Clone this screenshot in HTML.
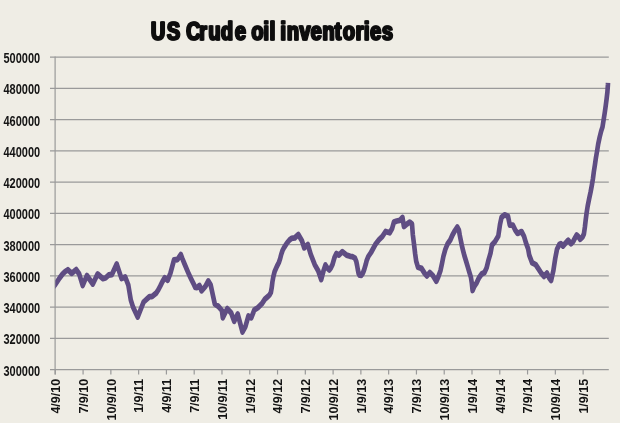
<!DOCTYPE html>
<html><head><meta charset="utf-8"><title>US Crude oil inventories</title>
<style>
html,body{margin:0;padding:0;background:#efede5;}
svg{display:block;will-change:transform;}
.yl{font-family:"Liberation Sans",Arial,sans-serif;font-weight:bold;font-size:14.2px;fill:#141414;}
.xl{font-family:"Liberation Sans",Arial,sans-serif;font-weight:bold;font-size:12.8px;fill:#141414;}
.tt{font-family:"Liberation Sans",Arial,sans-serif;font-weight:bold;font-size:26.5px;fill:#111;stroke:#111;stroke-width:1.6px;stroke-linejoin:round;}
</style></head><body>
<svg width="620" height="423" viewBox="0 0 620 423">
<rect x="0" y="0" width="620" height="423" fill="#efede5"/>
<path d="M50 369.60H608.8 M50 338.36H608.8 M50 307.12H608.8 M50 275.88H608.8 M50 244.64H608.8 M50 213.40H608.8 M50 182.16H608.8 M50 150.92H608.8 M50 119.68H608.8 M50 88.44H608.8 M50 57.20H608.8" stroke="#9a9a9a" stroke-width="1.2" fill="none"/>
<path d="M55.1 56.45V374.6" stroke="#9a9a9a" stroke-width="1.2" fill="none"/>
<path d="M55.30 369.6V374.6 M83.08 369.6V374.6 M110.86 369.6V374.6 M138.64 369.6V374.6 M166.42 369.6V374.6 M194.20 369.6V374.6 M221.98 369.6V374.6 M249.76 369.6V374.6 M277.54 369.6V374.6 M305.32 369.6V374.6 M333.10 369.6V374.6 M360.88 369.6V374.6 M388.66 369.6V374.6 M416.44 369.6V374.6 M444.22 369.6V374.6 M472.00 369.6V374.6 M499.78 369.6V374.6 M527.56 369.6V374.6 M555.34 369.6V374.6 M583.12 369.6V374.6" stroke="#9a9a9a" stroke-width="1.2" fill="none"/>
<text x="40.1" y="375.50" text-anchor="end" class="yl" textLength="36.6" lengthAdjust="spacingAndGlyphs">300000</text>
<text x="40.1" y="344.26" text-anchor="end" class="yl" textLength="36.6" lengthAdjust="spacingAndGlyphs">320000</text>
<text x="40.1" y="313.02" text-anchor="end" class="yl" textLength="36.6" lengthAdjust="spacingAndGlyphs">340000</text>
<text x="40.1" y="281.78" text-anchor="end" class="yl" textLength="36.6" lengthAdjust="spacingAndGlyphs">360000</text>
<text x="40.1" y="250.54" text-anchor="end" class="yl" textLength="36.6" lengthAdjust="spacingAndGlyphs">380000</text>
<text x="40.1" y="219.30" text-anchor="end" class="yl" textLength="36.6" lengthAdjust="spacingAndGlyphs">400000</text>
<text x="40.1" y="188.06" text-anchor="end" class="yl" textLength="36.6" lengthAdjust="spacingAndGlyphs">420000</text>
<text x="40.1" y="156.82" text-anchor="end" class="yl" textLength="36.6" lengthAdjust="spacingAndGlyphs">440000</text>
<text x="40.1" y="125.58" text-anchor="end" class="yl" textLength="36.6" lengthAdjust="spacingAndGlyphs">460000</text>
<text x="40.1" y="94.34" text-anchor="end" class="yl" textLength="36.6" lengthAdjust="spacingAndGlyphs">480000</text>
<text x="40.1" y="63.10" text-anchor="end" class="yl" textLength="36.6" lengthAdjust="spacingAndGlyphs">500000</text>
<text transform="translate(60.10,378.9) rotate(-90) scale(0.975 1)" text-anchor="end" class="xl">4/9/10</text>
<text transform="translate(87.88,378.9) rotate(-90) scale(0.975 1)" text-anchor="end" class="xl">7/9/10</text>
<text transform="translate(115.66,378.9) rotate(-90) scale(0.975 1)" text-anchor="end" class="xl">10/9/10</text>
<text transform="translate(143.44,378.9) rotate(-90) scale(0.975 1)" text-anchor="end" class="xl">1/9/11</text>
<text transform="translate(171.22,378.9) rotate(-90) scale(0.975 1)" text-anchor="end" class="xl">4/9/11</text>
<text transform="translate(199.00,378.9) rotate(-90) scale(0.975 1)" text-anchor="end" class="xl">7/9/11</text>
<text transform="translate(226.78,378.9) rotate(-90) scale(0.975 1)" text-anchor="end" class="xl">10/9/11</text>
<text transform="translate(254.56,378.9) rotate(-90) scale(0.975 1)" text-anchor="end" class="xl">1/9/12</text>
<text transform="translate(282.34,378.9) rotate(-90) scale(0.975 1)" text-anchor="end" class="xl">4/9/12</text>
<text transform="translate(310.12,378.9) rotate(-90) scale(0.975 1)" text-anchor="end" class="xl">7/9/12</text>
<text transform="translate(337.90,378.9) rotate(-90) scale(0.975 1)" text-anchor="end" class="xl">10/9/12</text>
<text transform="translate(365.68,378.9) rotate(-90) scale(0.975 1)" text-anchor="end" class="xl">1/9/13</text>
<text transform="translate(393.46,378.9) rotate(-90) scale(0.975 1)" text-anchor="end" class="xl">4/9/13</text>
<text transform="translate(421.24,378.9) rotate(-90) scale(0.975 1)" text-anchor="end" class="xl">7/9/13</text>
<text transform="translate(449.02,378.9) rotate(-90) scale(0.975 1)" text-anchor="end" class="xl">10/9/13</text>
<text transform="translate(476.80,378.9) rotate(-90) scale(0.975 1)" text-anchor="end" class="xl">1/9/14</text>
<text transform="translate(504.58,378.9) rotate(-90) scale(0.975 1)" text-anchor="end" class="xl">4/9/14</text>
<text transform="translate(532.36,378.9) rotate(-90) scale(0.975 1)" text-anchor="end" class="xl">7/9/14</text>
<text transform="translate(560.14,378.9) rotate(-90) scale(0.975 1)" text-anchor="end" class="xl">10/9/14</text>
<text transform="translate(587.92,378.9) rotate(-90) scale(0.975 1)" text-anchor="end" class="xl">1/9/15</text>
<clipPath id="pa"><rect x="55.3" y="40" width="570" height="340"/></clipPath>
<g clip-path="url(#pa)"><path transform="scale(0.8 1)" d="M65.00 288.5 L69.12 284.5 L74.50 278.0 L78.25 274.0 L81.50 271.5 L84.88 269.8 L89.62 273.4 L95.25 269.6 L99.00 274.0 L103.38 285.5 L108.62 275.5 L116.00 284.0 L122.00 274.0 L128.62 278.6 L131.88 278.0 L135.88 275.0 L139.88 274.5 L145.88 264.0 L151.88 278.5 L156.50 277.0 L160.38 285.0 L163.50 300.0 L166.25 307.0 L172.12 317.0 L179.50 302.0 L186.88 296.6 L189.88 296.6 L195.00 293.3 L197.75 290.0 L200.38 286.0 L203.12 281.5 L205.87 277.8 L209.62 280.2 L213.12 273.0 L217.50 260.0 L221.88 259.5 L226.00 254.5 L227.88 258.5 L230.50 263.6 L233.25 268.8 L236.00 274.0 L239.12 279.2 L242.25 284.3 L244.12 287.4 L246.25 287.6 L249.38 285.5 L251.88 290.8 L256.75 286.3 L260.38 281.0 L263.37 285.0 L266.25 295.7 L268.50 304.0 L273.00 306.4 L277.38 310.5 L278.50 317.8 L284.12 308.6 L289.00 313.0 L292.75 321.3 L297.12 314.0 L303.12 332.0 L306.75 326.6 L310.50 316.0 L314.12 317.8 L317.88 310.0 L322.25 307.7 L327.25 303.8 L331.12 299.2 L334.38 296.8 L336.88 295.0 L338.62 292.4 L339.75 287.2 L340.50 282.0 L341.62 276.8 L343.25 271.6 L346.12 266.4 L348.75 262.2 L350.25 258.5 L351.50 254.5 L353.00 250.8 L355.25 247.3 L358.75 243.0 L361.88 240.0 L364.38 238.4 L368.50 237.9 L372.88 234.5 L377.37 240.7 L380.25 247.8 L384.75 244.5 L388.37 254.3 L393.37 264.6 L397.88 271.0 L401.50 279.5 L404.50 270.5 L406.75 265.0 L409.62 268.5 L411.62 270.0 L413.50 268.0 L415.62 264.5 L418.12 257.5 L420.50 253.5 L423.75 255.1 L427.88 251.6 L433.25 255.1 L437.75 256.3 L440.38 256.7 L443.75 258.2 L445.38 261.5 L446.38 265.5 L447.25 269.5 L448.25 273.5 L449.38 275.2 L451.62 275.3 L453.25 273.5 L454.38 271.5 L455.38 269.3 L457.00 264.8 L458.25 260.8 L460.38 256.5 L463.75 252.5 L469.12 244.6 L473.75 239.8 L477.88 236.5 L482.00 231.5 L487.12 232.8 L490.12 228.6 L492.37 222.1 L496.00 221.0 L499.75 220.4 L503.12 217.5 L504.87 226.5 L507.88 224.5 L512.25 222.1 L515.00 223.9 L516.00 234.6 L517.50 244.0 L518.88 253.5 L520.25 261.3 L522.50 267.2 L526.88 268.4 L530.62 273.1 L533.62 276.0 L537.25 272.5 L541.00 275.5 L545.38 281.3 L547.75 277.0 L550.62 270.6 L552.50 263.5 L554.25 256.4 L556.62 249.5 L559.38 244.0 L562.88 240.0 L565.62 235.0 L568.75 230.5 L571.62 227.0 L573.62 230.0 L574.62 234.9 L575.88 239.9 L577.12 244.8 L578.62 249.8 L580.38 255.4 L582.50 260.9 L584.50 266.3 L586.50 271.7 L588.62 277.2 L589.75 283.0 L590.75 290.5 L593.12 286.0 L595.38 283.4 L598.75 277.7 L602.12 274.0 L605.62 272.5 L608.25 267.9 L610.38 260.8 L613.12 253.3 L615.00 245.0 L618.75 241.6 L622.88 236.0 L625.00 224.5 L626.88 217.4 L630.62 214.8 L635.00 216.2 L637.25 225.1 L641.00 225.1 L643.88 229.8 L646.88 233.4 L652.00 231.6 L655.00 236.3 L657.50 243.0 L660.12 248.7 L661.50 255.0 L665.12 262.8 L669.62 264.6 L672.50 268.1 L676.25 272.8 L680.00 276.4 L683.62 273.0 L686.62 278.1 L688.88 280.5 L691.75 270.5 L694.00 258.6 L696.25 249.2 L699.12 244.5 L701.12 243.7 L703.75 246.0 L706.62 243.4 L710.25 240.2 L713.75 243.8 L716.38 241.6 L719.12 237.4 L720.88 235.0 L723.12 236.8 L725.25 239.3 L728.12 237.0 L729.87 234.0 L731.12 227.0 L732.12 220.0 L733.25 213.0 L734.62 206.0 L736.38 199.0 L738.25 192.0 L739.87 185.0 L741.12 179.0 L742.25 172.0 L743.62 165.0 L744.87 158.0 L746.38 151.0 L747.75 144.0 L749.62 137.0 L751.50 131.0 L753.12 127.0 L754.50 120.0 L755.88 113.0 L757.12 106.0 L758.25 99.0 L759.25 92.0 L759.87 85.0 L760.00 82.8" stroke="#5f4d83" stroke-width="5.8" fill="none" stroke-linejoin="round" stroke-linecap="butt"/></g>
<filter id="fb" x="-5%" y="-20%" width="110%" height="140%"><feOffset in="SourceGraphic" dx="1.0" dy="0" result="o"/><feMerge><feMergeNode in="o"/><feMergeNode in="SourceGraphic"/></feMerge></filter>
<g filter="url(#fb)"><g transform="translate(0.0 40.0) scale(0.74 1)"><text x="203.53 225.04 242.71 250.93 268.51 281.05 298.09 316.93 331.67 339.36 355.57 363.81 371.18 378.41 387.03 404.07 419.36 435.00 451.56 462.87 480.13 491.11 499.76 515.54" y="0" class="tt">US Crude oil inventories</text></g></g>
</svg>
</body></html>
